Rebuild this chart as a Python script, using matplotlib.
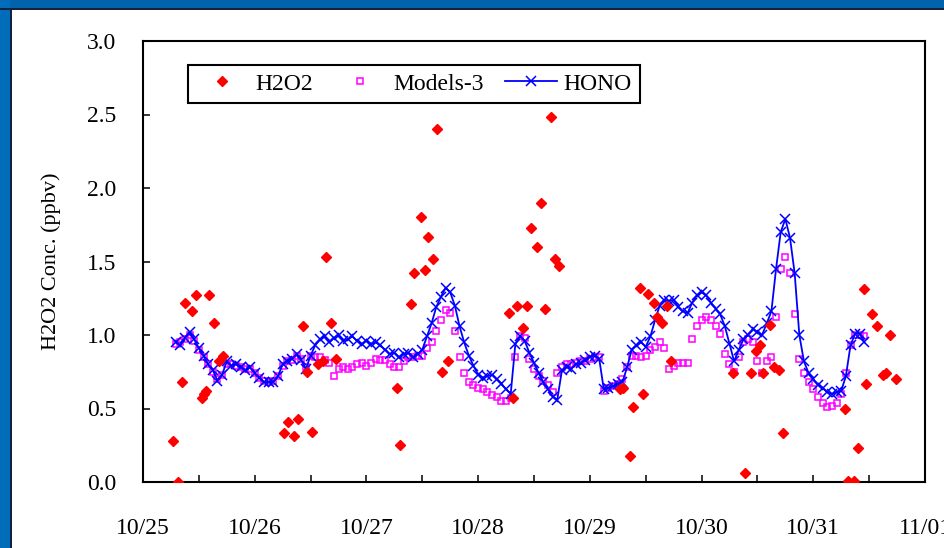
import matplotlib

matplotlib.use("Agg")

import matplotlib.patches as mpatches
import matplotlib.pyplot as plt
import numpy as np
from matplotlib.ticker import FixedLocator, FormatStrFormatter, MultipleLocator

plt.rcParams["font.family"] = ["Liberation Serif", "DejaVu Serif"]

# Day labels on the time axis (day 0 = 10/25 00:00)
day_labels = ["10/25", "10/26", "10/27", "10/28", "10/29", "10/30", "10/31", "11/01"]

# Measured H2O2 (days since 10/25, ppbv)
h2o2_days = [
    0.27, 0.31, 0.35, 0.38, 0.44, 0.47, 0.53, 0.55, 0.56, 0.59, 0.64, 0.68, 0.72,
    1.26, 1.30, 1.35, 1.39, 1.43, 1.47, 1.51, 1.57, 1.61, 1.64, 1.68, 1.73,
    2.27, 2.30, 2.40, 2.43, 2.49, 2.52, 2.55, 2.60, 2.63, 2.68, 2.73,
    3.28, 3.31, 3.35, 3.40, 3.44, 3.47, 3.53, 3.56, 3.60, 3.65, 3.69, 3.72,
    4.27, 4.30, 4.36, 4.39, 4.45, 4.48, 4.52, 4.57, 4.60, 4.65, 4.69, 4.73,
    5.28, 5.39, 5.44, 5.49, 5.52, 5.55, 5.61, 5.65, 5.69, 5.73,
    6.28, 6.31, 6.36, 6.40, 6.45, 6.47, 6.53, 6.57, 6.62, 6.65, 6.69, 6.74,
]
h2o2_conc = [
    0.28, 0.00, 0.68, 1.22, 1.16, 1.27, 0.57, 0.60, 0.62, 1.27, 1.08, 0.82, 0.86,
    0.33, 0.41, 0.31, 0.43, 1.06, 0.75, 0.34, 0.80, 0.82, 1.53, 1.08, 0.84,
    0.64, 0.25, 1.21, 1.42, 1.80, 1.44, 1.67, 1.52, 2.40, 0.75, 0.82,
    1.15, 0.57, 1.20, 1.05, 1.20, 1.73, 1.60, 1.90, 1.18, 2.48, 1.52, 1.47,
    0.63, 0.64, 0.18, 0.51, 1.32, 0.60, 1.28, 1.22, 1.12, 1.08, 1.20, 0.82,
    0.74, 0.06, 0.74, 0.89, 0.93, 0.74, 1.07, 0.78, 0.76, 0.33,
    0.50, 0.01, 0.01, 0.23, 1.31, 0.67, 1.14, 1.06, 0.73, 0.74, 1.00, 0.70,
]

# Hourly series, 10/25 07:00 to 10/31 11:00
model_hours = np.arange(7, 156)

models3_conc = [
    # 10/25
    0.94, 0.95, 0.97, 1.00, 0.96, 0.90, 0.85, 0.80, 0.75, 0.70, 0.73, 0.80, 0.80, 0.79, 0.78, 0.77, 0.77,
    # 10/26
    0.74, 0.71, 0.69, 0.68, 0.69, 0.72, 0.79, 0.82, 0.83, 0.86, 0.84, 0.78,
    0.86, 0.85, 0.85, 0.83, 0.81, 0.72, 0.77, 0.78, 0.77, 0.78, 0.80, 0.81,
    # 10/27
    0.79, 0.81, 0.84, 0.83, 0.83, 0.80, 0.78, 0.78, 0.82, 0.85, 0.85, 0.86,
    0.86, 0.91, 0.95, 1.03, 1.10, 1.17, 1.15, 1.03, 0.85, 0.74, 0.68, 0.66,
    # 10/28
    0.64, 0.63, 0.61, 0.59, 0.58, 0.55, 0.55, 0.57, 0.85, 0.99, 0.98, 0.84,
    0.77, 0.72, 0.69, 0.66, 0.61, 0.74, 0.78, 0.80, 0.80, 0.81, 0.82, 0.82,
    # 10/29
    0.84, 0.85, 0.85, 0.62, 0.64, 0.65, 0.67, 0.70, 0.78, 0.86, 0.86, 0.85,
    0.86, 0.90, 0.92, 0.95, 0.91, 0.77, 0.79, 0.81, 0.81, 0.81, 0.97, 1.06,
    # 10/30
    1.10, 1.12, 1.10, 1.06, 1.01, 0.87, 0.80, 0.75, 0.85, 0.95, 0.97, 0.95,
    0.82, 0.74, 0.82, 0.85, 1.12, 1.45, 1.53, 1.42, 1.14, 0.84, 0.74, 0.68,
    # 10/31
    0.63, 0.58, 0.54, 0.51, 0.52, 0.54, 0.60, 0.74, 0.93, 1.00, 1.00, 0.99,
]

hono_conc = [
    # 10/25
    0.95, 0.93, 0.98, 1.02, 0.97, 0.91, 0.86, 0.80, 0.76, 0.69, 0.73, 0.82, 0.79, 0.80, 0.78, 0.76, 0.78,
    # 10/26
    0.74, 0.71, 0.68, 0.68, 0.68, 0.72, 0.80, 0.82, 0.84, 0.87, 0.83, 0.77,
    0.86, 0.93, 0.97, 0.99, 0.95, 0.98, 1.00, 0.96, 0.97, 0.99, 0.96, 0.94,
    # 10/27
    0.96, 0.94, 0.95, 0.93, 0.90, 0.87, 0.88, 0.85, 0.87, 0.88, 0.85, 0.87,
    0.90, 0.99, 1.08, 1.19, 1.26, 1.32, 1.29, 1.20, 1.06, 0.95, 0.86, 0.79,
    # 10/28
    0.73, 0.71, 0.72, 0.73, 0.70, 0.67, 0.63, 0.60, 0.94, 0.99, 0.96, 0.88,
    0.81, 0.74, 0.68, 0.63, 0.58, 0.56, 0.76, 0.78, 0.77, 0.80, 0.81, 0.83,
    # 10/29
    0.85, 0.86, 0.84, 0.63, 0.64, 0.65, 0.67, 0.68, 0.78, 0.90, 0.93, 0.95,
    0.92, 0.99, 1.10, 1.20, 1.24, 1.23, 1.24, 1.19, 1.16, 1.15, 1.22, 1.27,
    # 10/30
    1.29, 1.27, 1.22, 1.18, 1.14, 1.06, 0.94, 0.82, 0.90, 0.97, 1.00, 1.04,
    1.02, 1.00, 1.08, 1.16, 1.45, 1.70, 1.79, 1.66, 1.42, 1.00, 0.82, 0.74,
    # 10/31
    0.70, 0.66, 0.64, 0.61, 0.60, 0.61, 0.62, 0.72, 0.93, 1.01, 1.01, 0.95,
]

W, H = 945, 548


def add_slide_frame(fig):
    """Blue slide border along the top and left edges."""
    fig.patches.append(mpatches.Rectangle((0, 1 - 8 / H), 1, 8 / H, transform=fig.transFigure,
                                          facecolor="#0063AC", edgecolor="none", zorder=-5))
    fig.patches.append(mpatches.Rectangle((0, 1 - 10 / H), 1, 2 / H, transform=fig.transFigure,
                                          facecolor="#14213D", edgecolor="none", zorder=-4))
    fig.patches.append(mpatches.Rectangle((0, 0), 10 / W, 1, transform=fig.transFigure,
                                          facecolor="#006CBA", edgecolor="none", zorder=-5))
    fig.patches.append(mpatches.Rectangle((10 / W, 0), 2 / W, 1 - 8 / H, transform=fig.transFigure,
                                          facecolor="#14213D", edgecolor="none", zorder=-4))


fig = plt.figure(figsize=(W / 100, H / 100), dpi=100, facecolor="white")
add_slide_frame(fig)

ax = fig.add_axes([143 / W, (H - 482) / H, 782 / W, 441 / H])

model_days = model_hours / 24.0
ax.plot(model_days, models3_conc, linestyle="none", marker="s", markersize=5.0,
        markerfacecolor="none", markeredgecolor="#FF00FF", markeredgewidth=1.1,
        label="Models-3", zorder=2)
ax.plot(model_days, hono_conc, color="#0000FF", linewidth=1.3, marker="x", markersize=7,
        markeredgewidth=1.1, label="HONO", zorder=3)
ax.plot(h2o2_days, h2o2_conc, linestyle="none", marker="D", markersize=5.2,
        color="#FF0000", markeredgecolor="#FF0000", label="H2O2", zorder=4)

ax.set_xlim(0, 7)
ax.set_ylim(0, 3.0)

ax.xaxis.set_major_locator(FixedLocator(range(len(day_labels))))
ax.set_xticklabels(day_labels)
ax.xaxis.set_minor_locator(MultipleLocator(0.5))
ax.yaxis.set_major_locator(MultipleLocator(0.5))
ax.yaxis.set_major_formatter(FormatStrFormatter("%.1f"))

ax.tick_params(axis="both", which="both", direction="in", length=5, width=1.1,
               labelsize=17, colors="black")
ax.tick_params(axis="x", which="major", pad=26)
ax.tick_params(axis="y", which="major", pad=19)

for spine in ax.spines.values():
    spine.set_linewidth(1.5)
    spine.set_color("black")

ax.set_ylabel("H2O2 Conc. (ppbv)", fontsize=16, labelpad=19)

handles, labels = ax.get_legend_handles_labels()
order = [2, 0, 1]
leg = ax.legend([handles[i] for i in order], [labels[i] for i in order],
                loc="upper left", bbox_to_anchor=((176 - 143) / 782, (482 - 53) / 441),
                ncol=3, fontsize=17, handlelength=2.2, handletextpad=0.3,
                columnspacing=0.9, borderpad=0.35, fancybox=False, framealpha=1,
                edgecolor="black")
leg.get_frame().set_linewidth(1.5)

fig.savefig("out.png", dpi=100, facecolor="white")
plt.close(fig)
